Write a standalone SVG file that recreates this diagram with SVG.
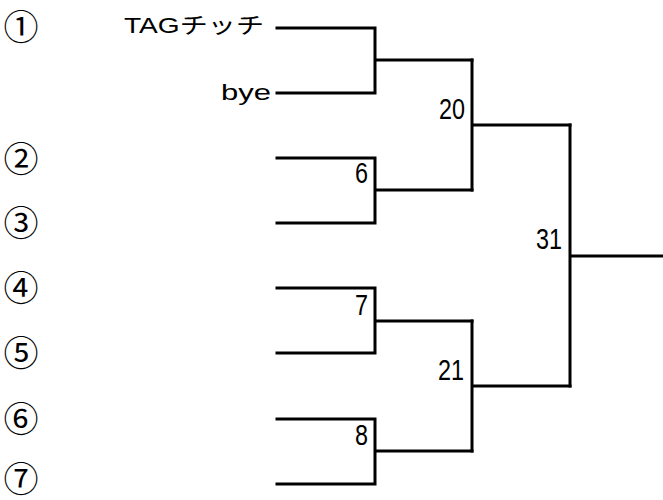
<svg xmlns="http://www.w3.org/2000/svg" width="663" height="500" viewBox="0 0 663 500">
<style>
.ln{fill:none;stroke:#000;stroke-width:3;stroke-linecap:square}
.c{font-family:"Noto Sans CJK JP","DejaVu Sans",sans-serif;font-size:35px;fill:#000;text-anchor:middle}
.t{font-family:"Liberation Sans","Noto Sans CJK JP",sans-serif;font-size:22px;fill:#000}
.n{font-family:"Liberation Sans",sans-serif;font-size:29px;fill:#000}
</style>
<rect width="663" height="500" fill="#fff"/>
<g id="seeds">
<text class="c" x="21" y="40">①</text>
<text class="c" x="21" y="172">②</text>
<text class="c" x="21" y="236">③</text>
<text class="c" x="21" y="301">④</text>
<text class="c" x="21" y="366">⑤</text>
<text class="c" x="21" y="432">⑥</text>
<text class="c" x="21" y="492">⑦</text>
</g>
<g id="team-tag"><text class="t" x="124" y="33" textLength="140" lengthAdjust="spacingAndGlyphs">TAGチッチ</text></g>
<g id="team-bye"><text class="t" x="221" y="100" textLength="50" lengthAdjust="spacingAndGlyphs">bye</text></g>
<g id="connectors">
<path class="ln" d="M277,28 H375 V93 H277 M375,60 H472"/>
<path class="ln" d="M277,158 H375 V223 H277 M375,190 H472"/>
<path class="ln" d="M277,288 H375 V353 H277 M375,321 H472"/>
<path class="ln" d="M277,419 H375 V484 H277 M375,451 H472"/>
<path class="ln" d="M472,60 V190 M472,125 H570"/>
<path class="ln" d="M472,321 V451 M472,386 H570"/>
<path class="ln" d="M570,125 V386 M570,256 H663"/>
</g>
<g id="match-6"><text class="n" x="355" y="183" textLength="13" lengthAdjust="spacingAndGlyphs">6</text></g>
<g id="match-7"><text class="n" x="355" y="315" textLength="13" lengthAdjust="spacingAndGlyphs">7</text></g>
<g id="match-8"><text class="n" x="355" y="445" textLength="13" lengthAdjust="spacingAndGlyphs">8</text></g>
<g id="match-20"><text class="n" x="439" y="119" textLength="26" lengthAdjust="spacingAndGlyphs">20</text></g>
<g id="match-21"><text class="n" x="438" y="380" textLength="26" lengthAdjust="spacingAndGlyphs">21</text></g>
<g id="match-31"><text class="n" x="536" y="249" textLength="26" lengthAdjust="spacingAndGlyphs">31</text></g>
</svg>
